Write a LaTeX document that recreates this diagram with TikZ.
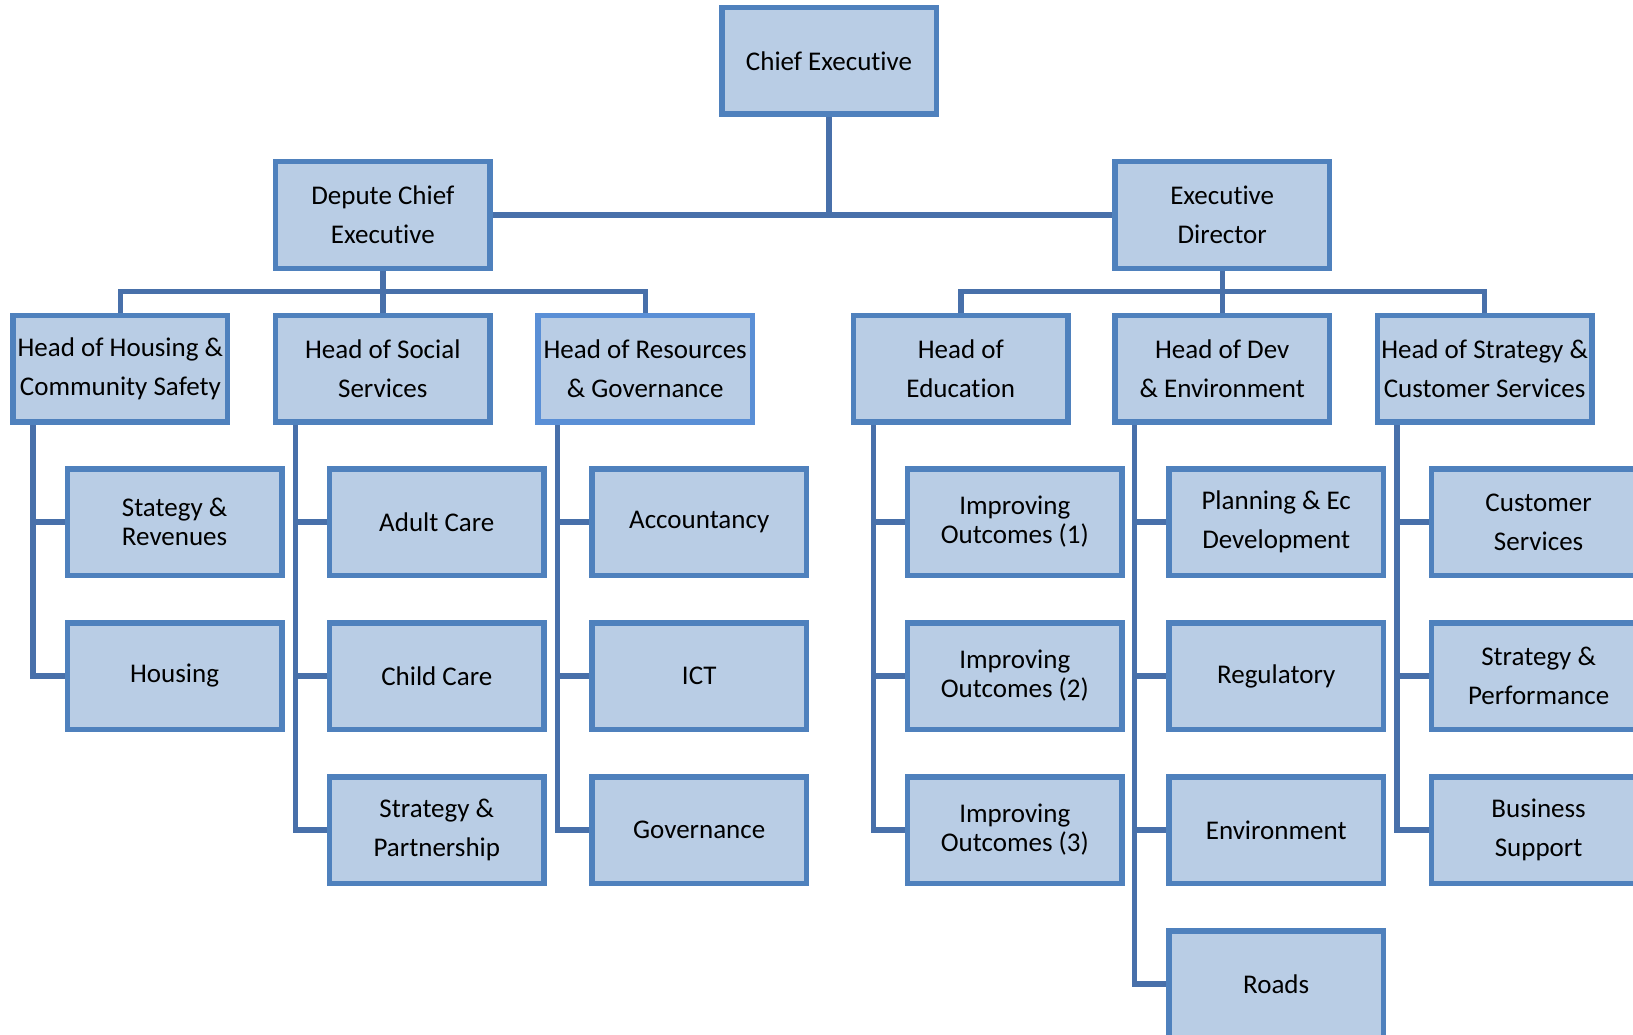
\documentclass[tikz,border=0pt]{standalone}
\usepackage{fontspec}
\setmainfont{Carlito}[RawFeature={-liga,-calt,-dlig}]
\usetikzlibrary{backgrounds}
\definecolor{boxfill}{HTML}{B9CDE5}
\definecolor{boxline}{HTML}{4F81BD}
\definecolor{resline}{HTML}{5A8FD6}
\definecolor{connline}{HTML}{4870AA}
\newcommand{\xexec}{Execu\kern0pt t\kern0pt ive}
\begin{document}
\begin{tikzpicture}[x=1pt,y=-1pt,
  box/.style={draw=boxline, fill=boxfill, line width=5.5pt, minimum width=214.5pt,
    minimum height=106.5pt, inner sep=0pt, align=center, text=black,
    font=\fontsize{27}{39}\selectfont},
  tight/.style={font=\fontsize{27}{29}\selectfont},
  conn/.style={draw=connline, line width=5.4pt}]
\useasboundingbox (0,0) rectangle (1633,1035);
\clip (0,0) rectangle (1633,1035);
% level 1 and 2
\node[box] (chief) at (829,61) {Chief \xexec};
\node[box] (depute) at (382.8,215) {Depute Chief\\\xexec};
\node[box] (execdir) at (1222.2,215) {\xexec\\Director};
% level 3
\node[box] (hhcs) at (120.4,368.5) {Head of Housing \&\\Community Safety};
\node[box] (hss) at (382.8,368.5) {Head of Social\\Services};
\node[box, draw=resline] (hrg) at (645.2,368.5) {Head of Resources\\\& Governance};
\node[box] (hed) at (960.8,368.5) {Head of\\Education};
\node[box] (hde) at (1222.2,368.5) {Head of Dev\\\& Environment};
\node[box] (hsc) at (1484.6,368.5) {Head of Strategy \&\\Customer Services};
% level 4, column 1
\node[box, tight] (srev) at (174.6,522) {Stategy \&\\Revenues};
\node[box] (hous) at (174.6,676) {Housing};
% column 2
\node[box] (adult) at (436.8,522) {Adult Care};
\node[box] (child) at (436.8,676) {Child Care};
\node[box] (spart) at (436.8,830) {Strategy \&\\Partnership};
% column 3
\node[box] (acc) at (699.2,522) {Accountancy};
\node[box] (ict) at (699.2,676) {ICT};
\node[box] (gov) at (699.2,830) {Governance};
% column 4
\node[box, tight] (io1) at (1014.8,522) {Improving\\Outcomes (1)};
\node[box, tight] (io2) at (1014.8,676) {Improving\\Outcomes (2)};
\node[box, tight] (io3) at (1014.8,830) {Improving\\Outcomes (3)};
% column 5
\node[box] (plan) at (1276.2,522) {Planning \& Ec\\Development};
\node[box] (reg) at (1276.2,676) {Regulatory};
\node[box] (env) at (1276.2,830) {Environment};
\node[box] (roads) at (1276.2,984) {Roads};
% column 6
\node[box] (cust) at (1538.6,522) {Customer\\Services};
\node[box] (sperf) at (1538.6,676) {Strategy \&\\Performance};
\node[box] (bus) at (1538.6,830) {Business\\Support};
% connectors
\begin{scope}[on background layer]
\coordinate (busL) at (382.8,291.5);
\coordinate (busR) at (1222.2,291.5);
\draw[conn] (depute.east) -- (execdir.west);
\draw[conn] (chief.south) -- (chief.south |- depute.east);
\draw[conn] (depute.south) -- (busL);
\draw[conn] (hhcs.north) |- (busL) -| (hrg.north);
\draw[conn] (hss.north) -- (busL);
\draw[conn] (execdir.south) -- (busR);
\draw[conn] (hed.north) |- (busR) -| (hsc.north);
\draw[conn] (hde.north) -- (busR);
% spines
\coordinate (sp1) at ([xshift=22.5pt]hhcs.south west);
\draw[conn] (sp1) |- (hous.west);
\draw[conn] (sp1 |- srev.west) -- (srev.west);
\coordinate (sp2) at ([xshift=22.5pt]hss.south west);
\draw[conn] (sp2) |- (spart.west);
\draw[conn] (sp2 |- adult.west) -- (adult.west);
\draw[conn] (sp2 |- child.west) -- (child.west);
\coordinate (sp3) at ([xshift=22.5pt]hrg.south west);
\draw[conn] (sp3) |- (gov.west);
\draw[conn] (sp3 |- acc.west) -- (acc.west);
\draw[conn] (sp3 |- ict.west) -- (ict.west);
\coordinate (sp4) at ([xshift=22.5pt]hed.south west);
\draw[conn] (sp4) |- (io3.west);
\draw[conn] (sp4 |- io1.west) -- (io1.west);
\draw[conn] (sp4 |- io2.west) -- (io2.west);
\coordinate (sp5) at ([xshift=22.5pt]hde.south west);
\draw[conn] (sp5) |- (roads.west);
\draw[conn] (sp5 |- plan.west) -- (plan.west);
\draw[conn] (sp5 |- reg.west) -- (reg.west);
\draw[conn] (sp5 |- env.west) -- (env.west);
\coordinate (sp6) at ([xshift=22.5pt]hsc.south west);
\draw[conn] (sp6) |- (bus.west);
\draw[conn] (sp6 |- cust.west) -- (cust.west);
\draw[conn] (sp6 |- sperf.west) -- (sperf.west);
\end{scope}
\end{tikzpicture}
\end{document}
